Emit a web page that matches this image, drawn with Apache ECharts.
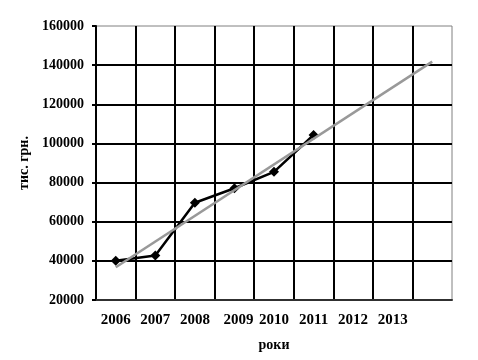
<!DOCTYPE html>
<html>
<head>
<meta charset="utf-8">
<script src="https://cdn.jsdelivr.net/npm/echarts@6/dist/echarts.min.js"></script>
<style>html,body{margin:0;padding:0;background:#fff}#c{width:478px;height:360px}</style>
</head>
<body>
<div id="c"></div>
<script>
var categories = ['2006', '2007', '2008', '2009', '2010', '2011', '2012', '2013', ''];
var actualValues = [40000, 42700, 69700, 77100, 85500, 104300];
var trendValues = [36700, null, null, null, null, null, null, null, 141800];
var yTicks = { min: 20000, max: 160000, step: 20000 };
var xTitle = 'роки';
var yTitle = 'тис. грн.';

var font = 'Liberation Serif';
var chart = echarts.init(document.getElementById('c'), null, { renderer: 'canvas' });
chart.setOption({
  animation: false,
  backgroundColor: '#fff',
  grid: { left: 96, right: 26, top: 26, bottom: 60, show: true, borderColor: '#808080', borderWidth: 1 },
  xAxis: {
    type: 'category',
    data: categories,
    boundaryGap: true,
    name: xTitle,
    nameLocation: 'middle',
    nameGap: 38,
    nameTextStyle: { fontFamily: font, fontWeight: 'bold', fontSize: 14, color: '#000' },
    axisLine: { lineStyle: { color: '#303030', width: 2 } },
    axisTick: { show: false },
    axisLabel: {
      margin: 13, interval: 0,
      fontFamily: font, fontWeight: 'bold', fontSize: 15, color: '#000',
      formatter: function (v) { return v === '2009' ? '{s|' + v + '}' : v; },
      rich: { s: { fontFamily: font, fontWeight: 'bold', fontSize: 15, color: '#000', padding: [0, 0, 0, 8] } }
    },
    splitLine: { show: true, showMinLine: false, showMaxLine: false, lineStyle: { color: '#000', width: 2 } }
  },
  yAxis: {
    type: 'value',
    min: yTicks.min, max: yTicks.max, interval: yTicks.step,
    name: yTitle,
    nameLocation: 'middle',
    nameGap: 60,
    nameTextStyle: { fontFamily: font, fontWeight: 'bold', fontSize: 14, color: '#000' },
    axisLine: { show: true, lineStyle: { color: '#000', width: 2 } },
    axisTick: { show: true, length: 4, lineStyle: { color: '#000', width: 2 } },
    axisLabel: {
      margin: 12, fontFamily: font, fontWeight: 'bold', fontSize: 14, color: '#000',
      formatter: function (v) { return String(v); }
    },
    splitLine: { show: true, showMinLine: false, showMaxLine: false, lineStyle: { color: '#000', width: 2 } }
  },
  series: [
    {
      type: 'line',
      data: actualValues,
      symbol: 'diamond',
      symbolSize: 10,
      itemStyle: { color: '#000' },
      lineStyle: { color: '#000', width: 2.5 },
      z: 3
    },
    {
      type: 'line',
      data: trendValues,
      connectNulls: true,
      symbol: 'none',
      lineStyle: { color: '#999', width: 2.5 },
      z: 4
    }
  ]
});
</script>
</body>
</html>
